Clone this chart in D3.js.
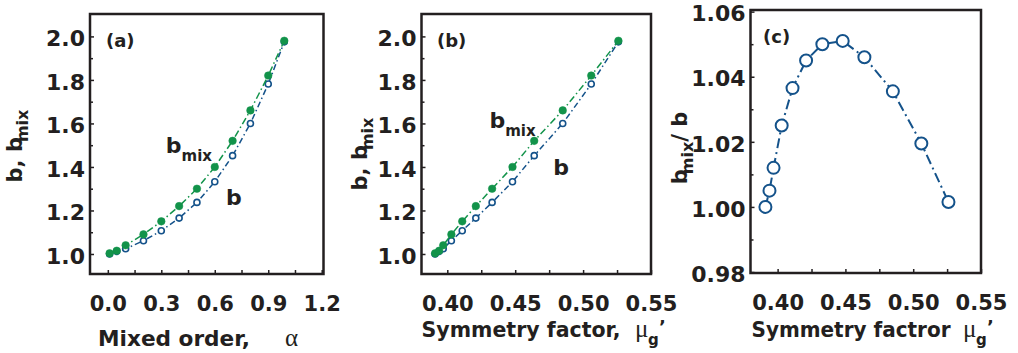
<!DOCTYPE html>
<html>
<head>
<meta charset="utf-8">
<script src="https://cdn.jsdelivr.net/npm/d3@7"></script>
<style>
  html, body { margin: 0; padding: 0; background: #fff; }
  svg text { font-family: "DejaVu Sans", sans-serif; font-weight: bold; fill: #231f20; }
  .serif { font-family: "Liberation Serif", serif !important; font-weight: normal !important; }
</style>
</head>
<body>
<svg id="chart" width="1018" height="353"></svg>
<script>
// data
var alpha = [0.01, 0.05, 0.1, 0.2, 0.3, 0.4, 0.5, 0.6, 0.7, 0.8, 0.9, 0.99];
var mu = [0.391, 0.394, 0.397, 0.403, 0.411, 0.421, 0.433, 0.448, 0.464, 0.485, 0.506, 0.526];
var bMix = [1.003, 1.015, 1.04, 1.09, 1.15, 1.22, 1.30, 1.40, 1.52, 1.66, 1.82, 1.98];
var bVal = [1.0, 1.012, 1.024, 1.061, 1.107, 1.165, 1.237, 1.332, 1.452, 1.600, 1.781, 1.975];
var ratio = [1.000, 1.005, 1.012, 1.025, 1.0365, 1.045, 1.050, 1.051, 1.046, 1.0355, 1.0195, 1.0015];

var xTicksA = [0, 0.3, 0.6, 0.9, 1.2];
var xMinorA = [0.15, 0.45, 0.75, 1.05];
var xTicksMu = [0.40, 0.45, 0.50, 0.55];
var xMinorMu = [0.425, 0.475, 0.525];
var yTicksB = [1.0, 1.2, 1.4, 1.6, 1.8, 2.0];
var yMinorB = [1.1, 1.3, 1.5, 1.7, 1.9];
var yTicksR = [0.98, 1.00, 1.02, 1.04, 1.06];
var yMinorR = [0.99, 1.01, 1.03, 1.05];

var green = "#12934a", blue = "#14528a", ink = "#231f20";
var svg = d3.select("#chart");

function panel(o) {
  var x = d3.scaleLinear().domain(o.xDom).range([o.left, o.right]);
  var y = d3.scaleLinear().domain(o.yDom).range([o.bottom, o.top]);
  var g = svg.append("g");

  // major + minor ticks, pointing inward
  var yAx = g.append("g").attr("transform", "translate(" + o.left + ",0)")
    .call(d3.axisLeft(y).tickValues(o.yTicks).tickSize(-4).tickPadding(5).tickFormat(d3.format(o.yFmt)));
  g.append("g").attr("transform", "translate(" + o.left + ",0)")
    .call(d3.axisLeft(y).tickValues(o.yMinor).tickSize(-3).tickFormat(""));
  var xAx = g.append("g").attr("transform", "translate(0," + o.bottom + ")")
    .call(d3.axisBottom(x).tickValues(o.xTicks).tickSize(-4).tickFormat(d3.format(o.xFmt)));
  g.append("g").attr("transform", "translate(0," + o.bottom + ")")
    .call(d3.axisBottom(x).tickValues(o.xMinor).tickSize(-4).tickFormat(""));

  g.selectAll(".domain").remove();
  g.selectAll(".tick line").attr("stroke", ink).attr("stroke-width", 1.5);
  yAx.selectAll("text").attr("font-size", 22).attr("dy", "0.42em").style("font-family", "DejaVu Sans");
  xAx.selectAll("text").attr("font-size", 21).attr("y", 37).attr("dy", 0).style("font-family", "DejaVu Sans");

  g.append("rect")
    .attr("x", o.left).attr("y", o.top)
    .attr("width", o.right - o.left).attr("height", o.bottom - o.top)
    .attr("fill", "none").attr("stroke", ink).attr("stroke-width", 2.5);

  g.append("text").attr("x", o.tagX).attr("y", o.tagY).attr("font-size", 18).text(o.tag);

  return {g: g, x: x, y: y};
}

function series(p, xs, ys, color, dash, width, r, filled) {
  var pts = xs.map(function (d, i) { return [d, ys[i]]; });
  p.g.append("path")
    .attr("d", d3.line().x(function (d) { return p.x(d[0]); }).y(function (d) { return p.y(d[1]); })(pts))
    .attr("fill", "none").attr("stroke", color).attr("stroke-width", width)
    .attr("stroke-dasharray", dash);
  p.g.selectAll(null).data(pts).enter().append("circle")
    .attr("cx", function (d) { return p.x(d[0]); })
    .attr("cy", function (d) { return p.y(d[1]); })
    .attr("r", r)
    .attr("fill", filled ? color : "#fff")
    .attr("stroke", color).attr("stroke-width", filled ? 0.5 : (r > 4 ? 2 : 1.6));
}

function yTitle(x, y, main, sub, tail) {
  var t = svg.append("text").attr("transform", "translate(" + x + "," + y + ") rotate(-90)")
    .attr("text-anchor", "middle").attr("font-size", 21);
  t.append("tspan").text(main);
  t.append("tspan").attr("font-size", 16).attr("dx", -5).attr("dy", 6).text(sub);
  if (tail) t.append("tspan").attr("dy", -6).text(tail);
}

function mark(p, xv, yv, main, sub) {
  var t = p.g.append("text").attr("x", p.x(xv)).attr("y", p.y(yv)).attr("font-size", 22).text(main);
  if (sub) t.append("tspan").attr("font-size", 15).attr("dy", 8).text(sub);
}

// (a) b, b_mix vs mixed order
var pa = panel({left: 90, right: 323.5, top: 14, bottom: 274,
  xDom: [-0.1, 1.21], yDom: [0.908, 2.103],
  xTicks: xTicksA, xMinor: xMinorA, yTicks: yTicksB, yMinor: yMinorB,
  xFmt: ".1f", yFmt: ".1f", tag: "(a)", tagX: 106, tagY: 47});
series(pa, alpha, bVal, blue, "6,3,1.5,3", 1.5, 3, false);
series(pa, alpha, bMix, green, "7,3,1.5,3", 1.5, 3.8, true);
mark(pa, 0.325, 1.462, "b", "mix");
mark(pa, 0.663, 1.225, "b");

// (b) b, b_mix vs symmetry factor
var pb = panel({left: 421.5, right: 651, top: 14, bottom: 274,
  xDom: [0.381, 0.55], yDom: [0.908, 2.103],
  xTicks: xTicksMu, xMinor: xMinorMu, yTicks: yTicksB, yMinor: yMinorB,
  xFmt: ".2f", yFmt: ".1f", tag: "(b)", tagX: 437, tagY: 47});
series(pb, mu, bVal, blue, "6,3,1.5,3", 1.5, 3, false);
series(pb, mu, bMix, green, "7,3,1.5,3", 1.5, 3.8, true);
mark(pb, 0.431, 1.578, "b", "mix");
mark(pb, 0.478, 1.363, "b");

// (c) ratio
var pc = panel({left: 750.5, right: 981, top: 10, bottom: 273,
  xDom: [0.38, 0.55], yDom: [0.9797, 1.0605],
  xTicks: xTicksMu, xMinor: xMinorMu, yTicks: yTicksR, yMinor: yMinorR,
  xFmt: ".2f", yFmt: ".2f", tag: "(c)", tagX: 763, tagY: 43});
series(pc, mu, ratio, blue, "10,4,2,4", 2, 6, false);

// axis titles
yTitle(22, 146, "b, b", "mix");
yTitle(367, 154, "b, b", "mix");
yTitle(687, 148, "b", "mix", "/ b");

svg.append("text").attr("x", 98).attr("y", 346).attr("font-size", 21)
  .attr("textLength", 152).attr("lengthAdjust", "spacingAndGlyphs").text("Mixed order,");
svg.append("text").attr("class", "serif").attr("x", 285).attr("y", 346).attr("font-size", 25).text("\u03b1");

function muTitle(x0, label, muX) {
  svg.append("text").attr("x", x0).attr("y", 337).attr("font-size", 21)
    .attr("textLength", 199).attr("lengthAdjust", "spacingAndGlyphs").text(label);
  svg.append("text").attr("class", "serif").attr("x", muX).attr("y", 337).attr("font-size", 25).text("\u03bc");
  svg.append("text").attr("x", muX + 13).attr("y", 345).attr("font-size", 15).text("g");
  svg.append("text").attr("x", muX + 24).attr("y", 333).attr("font-size", 18).text("\u2019");
}
muTitle(421.5, "Symmetry factor,", 635);
muTitle(751.5, "Symmetry factror", 963);
</script>
</body>
</html>
